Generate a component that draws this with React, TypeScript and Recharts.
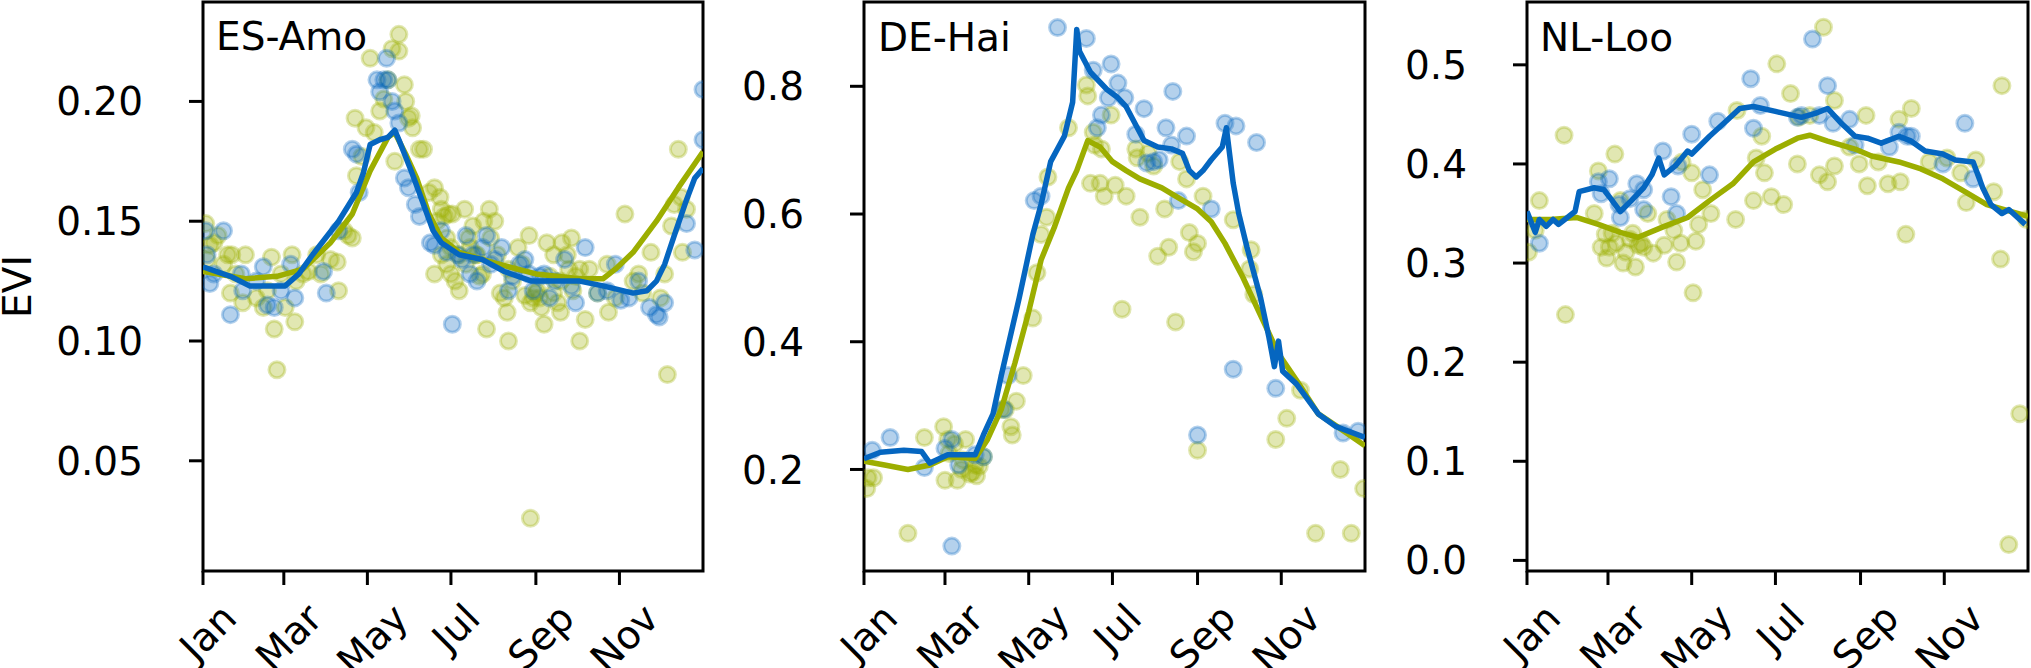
import { ReferenceArea, Scatter, ScatterChart, XAxis, YAxis } from "recharts";

// day-of-year ticks on every panel
const MONTH_TICKS = [0, 59, 120, 181, 243, 304];
const MONTH_LABELS = ["Jan", "Mar", "May", "Jul", "Sep", "Nov"];

// ES-Amo
const AMO_OLIVE = [
  [2, 0.149], [5, 0.14], [11, 0.144], [18, 0.136], [20, 0.12], [24, 0.128], [31, 0.136], [29, 0.116],
  [3, 0.134], [8, 0.141], [15, 0.132], [21, 0.136],
  [39, 0.118], [44, 0.114], [47, 0.121], [50, 0.135], [52, 0.105], [54, 0.088], [57, 0.128], [60, 0.114],
  [65, 0.136], [67, 0.108], [68, 0.125], [73, 0.128], [77, 0.129], [83, 0.136], [86, 0.128], [93, 0.134],
  [98, 0.133], [99, 0.121], [103, 0.146], [106, 0.144], [109, 0.143], [112, 0.169], [111, 0.193],
  [116, 0.177], [119, 0.189], [122, 0.218], [125, 0.187], [129, 0.196], [132, 0.201], [135, 0.209],
  [138, 0.222], [143, 0.228], [143, 0.221], [147, 0.207], [148, 0.2], [150, 0.193], [152, 0.194],
  [153, 0.189], [158, 0.18], [161, 0.18], [140, 0.175], [165, 0.162], [169, 0.164], [173, 0.16],
  [174, 0.155], [171, 0.15], [176, 0.152], [179, 0.153], [182, 0.153], [174, 0.136], [178, 0.132],
  [169, 0.128], [181, 0.128], [184, 0.125], [187, 0.121], [191, 0.155], [194, 0.143], [197, 0.148],
  [199, 0.136], [202, 0.127], [205, 0.15], [209, 0.155], [210, 0.143], [213, 0.15], [207, 0.105],
  [178, 0.143], [181, 0.139], [187, 0.136], [192, 0.132], [195, 0.139], [200, 0.136], [204, 0.128],
  [215, 0.136], [223, 0.13], [226, 0.125], [235, 0.119], [239, 0.116], [244, 0.121], [247, 0.114],
  [256, 0.12], [261, 0.125], [267, 0.13], [270, 0.121],
  [217, 0.12], [220, 0.118], [222, 0.112], [223, 0.1], [230, 0.139], [233, 0.132], [238, 0.144],
  [241, 0.118], [243, 0.12], [246, 0.118], [249, 0.107], [251, 0.141], [253, 0.127], [256, 0.136],
  [259, 0.116], [261, 0.112], [262, 0.141], [266, 0.136], [269, 0.143], [272, 0.127], [275, 0.13],
  [279, 0.109], [275, 0.1], [282, 0.13], [288, 0.12], [295, 0.132], [296, 0.112], [301, 0.118],
  [308, 0.153], [314, 0.125], [318, 0.128], [321, 0.12], [327, 0.137], [334, 0.118], [337, 0.128],
  [339, 0.086], [342, 0.148], [344, 0.157], [347, 0.18], [350, 0.137], [239, 0.026], [349, 0.16],
  [353, 0.155],
];
const AMO_BLUE = [
  [2, 0.146], [3, 0.136], [5, 0.124], [8, 0.128], [15, 0.146], [20, 0.111], [28, 0.128], [29, 0.121],
  [39, 0.125], [44, 0.131], [47, 0.115], [52, 0.114], [57, 0.121], [64, 0.132], [67, 0.118], [88, 0.129],
  [90, 0.12], [99, 0.146], [109, 0.18], [112, 0.178], [114, 0.162], [127, 0.209], [129, 0.204],
  [132, 0.209], [134, 0.218], [135, 0.209], [138, 0.2], [140, 0.196], [143, 0.191], [147, 0.168],
  [150, 0.164], [155, 0.157], [158, 0.152], [166, 0.141], [169, 0.14], [174, 0.146], [178, 0.137],
  [182, 0.107], [186, 0.136], [189, 0.134], [192, 0.144], [195, 0.128], [197, 0.136], [200, 0.125],
  [204, 0.139], [207, 0.144], [210, 0.132], [213, 0.134], [218, 0.139], [223, 0.121], [226, 0.127],
  [231, 0.132], [235, 0.134], [238, 0.128], [241, 0.121], [246, 0.127], [249, 0.128], [253, 0.118],
  [257, 0.125], [264, 0.134], [269, 0.123], [272, 0.116], [279, 0.139], [288, 0.12], [295, 0.121],
  [301, 0.132], [305, 0.117], [311, 0.118], [318, 0.125], [326, 0.114], [331, 0.111], [333, 0.11],
  [337, 0.116], [353, 0.149], [359, 0.138], [365, 0.184], [365, 0.205],
];
const AMO_OLIVE_LINE = [
  [0, 0.129], [31, 0.126], [54, 0.127], [73, 0.13], [93, 0.141], [109, 0.153], [122, 0.171],
  [135, 0.185], [140, 0.187], [148, 0.178], [156, 0.168], [165, 0.153], [174, 0.143], [187, 0.137],
  [210, 0.133], [243, 0.128], [275, 0.126], [292, 0.126], [301, 0.13], [314, 0.137], [331, 0.15],
  [347, 0.164], [365, 0.179],
];
const AMO_BLUE_LINE = [
  [0, 0.131], [20, 0.127], [34, 0.123], [60, 0.123], [70, 0.128], [80, 0.136], [99, 0.15], [112, 0.162],
  [117, 0.17], [122, 0.182], [129, 0.184], [135, 0.185], [140, 0.188], [143, 0.184], [152, 0.171],
  [161, 0.157], [168, 0.146], [174, 0.141], [187, 0.136], [204, 0.134], [220, 0.129], [240, 0.125],
  [259, 0.125], [275, 0.125], [292, 0.123], [314, 0.12], [324, 0.121], [331, 0.125], [337, 0.132],
  [344, 0.144], [353, 0.159], [359, 0.168], [365, 0.172],
];

// DE-Hai
const HAI_OLIVE = [
  [3, 0.187], [7, 0.187], [2, 0.17], [32, 0.1], [44, 0.25], [58, 0.267], [61, 0.247], [59, 0.183],
  [62, 0.225], [66, 0.24], [68, 0.183], [71, 0.2], [72, 0.215], [74, 0.247], [77, 0.193], [79, 0.195],
  [81, 0.207], [82, 0.19], [84, 0.205], [87, 0.22], [100, 0.294], [103, 0.294], [107, 0.267],
  [108, 0.254], [111, 0.307], [116, 0.347], [123, 0.437], [126, 0.508], [129, 0.568], [133, 0.595],
  [134, 0.658], [149, 0.735], [162, 0.802], [163, 0.785], [167, 0.728], [168, 0.708], [165, 0.648],
  [172, 0.648], [175, 0.628], [173, 0.702], [180, 0.755], [183, 0.645], [188, 0.451], [191, 0.628],
  [199, 0.688], [201, 0.595], [198, 0.702], [207, 0.695], [211, 0.675], [214, 0.534], [219, 0.608],
  [222, 0.548], [227, 0.431], [230, 0.682], [235, 0.655], [237, 0.571], [240, 0.541], [243, 0.554],
  [243, 0.23], [247, 0.628], [269, 0.591], [282, 0.544], [281, 0.514], [284, 0.474], [300, 0.247],
  [308, 0.28], [318, 0.324], [329, 0.1], [347, 0.2], [355, 0.1], [364, 0.17],
];
const HAI_BLUE = [
  [6, 0.23], [19, 0.25], [44, 0.203], [59, 0.233], [64, 0.247], [64, 0.08], [69, 0.207], [81, 0.223],
  [87, 0.22], [105, 0.347], [102, 0.294], [124, 0.621], [129, 0.628], [141, 0.892], [162, 0.875],
  [167, 0.825], [180, 0.835], [185, 0.805], [178, 0.782], [190, 0.782], [170, 0.735], [173, 0.755],
  [204, 0.765], [198, 0.725], [225, 0.792], [220, 0.735], [235, 0.722], [224, 0.708], [206, 0.68],
  [211, 0.682], [215, 0.685], [229, 0.621], [243, 0.254], [253, 0.608], [263, 0.742], [271, 0.738],
  [286, 0.712], [269, 0.357], [300, 0.327], [349, 0.257], [360, 0.26],
];
const HAI_OLIVE_LINE = [
  [0, 0.213], [15, 0.207], [32, 0.2], [48, 0.207], [61, 0.22], [81, 0.217], [90, 0.247], [100, 0.294],
  [110, 0.367], [120, 0.447], [129, 0.528], [139, 0.581], [149, 0.641], [155, 0.668], [163, 0.715],
  [172, 0.705], [181, 0.682], [191, 0.668], [201, 0.655], [217, 0.641], [227, 0.628], [243, 0.608],
  [253, 0.588], [263, 0.554], [276, 0.501], [289, 0.441], [302, 0.381], [315, 0.34], [331, 0.287],
  [347, 0.264], [365, 0.237],
];
const HAI_BLUE_LINE = [
  [0, 0.217], [12, 0.227], [29, 0.23], [42, 0.228], [48, 0.21], [61, 0.223], [81, 0.223], [87, 0.254],
  [94, 0.287], [100, 0.347], [113, 0.468], [123, 0.568], [129, 0.615], [136, 0.682], [146, 0.722],
  [152, 0.775], [155, 0.889], [157, 0.855], [165, 0.822], [177, 0.795], [185, 0.782], [191, 0.768],
  [204, 0.715], [214, 0.705], [224, 0.702], [232, 0.695], [237, 0.668], [242, 0.658], [247, 0.668],
  [253, 0.685], [261, 0.705], [264, 0.735], [269, 0.648], [273, 0.601], [279, 0.548], [289, 0.468],
  [295, 0.407], [299, 0.361], [302, 0.401], [305, 0.354], [315, 0.334], [331, 0.287], [344, 0.267],
  [365, 0.25],
];

// NL-Loo
const LOO_OLIVE = [
  [1, 0.311], [6, 0.333], [9, 0.363], [27, 0.429], [28, 0.248], [49, 0.35], [52, 0.393], [54, 0.316],
  [57, 0.329], [58, 0.305], [60, 0.316], [62, 0.33], [64, 0.41], [65, 0.32], [68, 0.363], [70, 0.3],
  [72, 0.311], [75, 0.324], [77, 0.33], [79, 0.296], [81, 0.318], [83, 0.32], [85, 0.316], [88, 0.35],
  [92, 0.31], [100, 0.318], [102, 0.344], [107, 0.333], [109, 0.301], [112, 0.32], [113, 0.402],
  [120, 0.391], [121, 0.27], [123, 0.322], [125, 0.339], [128, 0.374], [134, 0.35], [152, 0.344],
  [153, 0.454], [165, 0.363], [167, 0.406], [171, 0.428], [173, 0.391], [178, 0.367], [182, 0.501],
  [187, 0.359], [192, 0.471], [197, 0.4], [198, 0.447], [206, 0.449], [213, 0.389], [216, 0.538],
  [219, 0.382], [224, 0.464], [224, 0.398], [235, 0.417], [242, 0.4], [247, 0.449], [248, 0.378],
  [256, 0.402], [263, 0.38], [271, 0.445], [272, 0.382], [276, 0.329], [280, 0.456], [293, 0.402],
  [306, 0.406], [316, 0.391], [320, 0.361], [327, 0.404], [340, 0.372], [345, 0.304], [346, 0.479],
  [351, 0.016], [359, 0.148], [364, 0.344],
];
const LOO_BLUE = [
  [9, 0.32], [52, 0.382], [60, 0.385], [54, 0.37], [68, 0.346], [67, 0.359], [75, 0.365], [80, 0.38],
  [85, 0.374], [85, 0.354], [99, 0.413], [105, 0.367], [109, 0.35], [110, 0.398], [120, 0.43],
  [133, 0.389], [139, 0.443], [163, 0.486], [165, 0.436], [170, 0.459], [197, 0.447], [200, 0.449],
  [208, 0.526], [213, 0.449], [219, 0.479], [223, 0.441], [235, 0.445], [239, 0.419], [264, 0.417],
  [271, 0.432], [277, 0.428], [280, 0.428], [303, 0.4], [319, 0.441], [325, 0.385],
];
const LOO_OLIVE_LINE = [
  [0, 0.344], [17, 0.344], [36, 0.346], [52, 0.339], [68, 0.331], [81, 0.326], [100, 0.337],
  [117, 0.346], [133, 0.363], [150, 0.38], [165, 0.402], [181, 0.415], [197, 0.426], [206, 0.429],
  [219, 0.423], [239, 0.415], [251, 0.408], [271, 0.402], [287, 0.395], [303, 0.385], [319, 0.372],
  [335, 0.359], [365, 0.347],
];
const LOO_BLUE_LINE = [
  [0, 0.352], [6, 0.331], [9, 0.344], [14, 0.337], [19, 0.344], [23, 0.339], [35, 0.352], [38, 0.372],
  [49, 0.376], [56, 0.374], [61, 0.365], [68, 0.352], [76, 0.363], [85, 0.376], [91, 0.389], [96, 0.406],
  [100, 0.389], [108, 0.398], [117, 0.413], [120, 0.41], [133, 0.428], [145, 0.443], [155, 0.456],
  [165, 0.458], [181, 0.453], [200, 0.447], [210, 0.451], [219, 0.456], [229, 0.441], [239, 0.428],
  [248, 0.426], [258, 0.421], [271, 0.428], [280, 0.423], [290, 0.413], [303, 0.41], [312, 0.404],
  [325, 0.402], [332, 0.376], [338, 0.359], [346, 0.35], [351, 0.354], [363, 0.339],
];

const AMO_Y_TICKS = [0.05, 0.1, 0.15, 0.2];
const HAI_Y_TICKS = [0.2, 0.4, 0.6, 0.8];
const LOO_Y_TICKS = [0, 0.1, 0.2, 0.3, 0.4, 0.5];

const OLIVE = "#9cae00";
const BLUE = "#0566c0";
const FONT = "'DejaVu Sans', sans-serif";
const FS = 39;
const PLOT_TOP = 2;
const PLOT_BOTTOM = 571;
const X_AXIS_H = 668 - PLOT_BOTTOM;
const LINE_W = 5.5;

const CHAR_W: Record<string, number> = {
  J: 0.295, a: 0.613, n: 0.634, M: 0.863, r: 0.411, y: 0.592, u: 0.634,
  l: 0.278, S: 0.635, e: 0.615, p: 0.635, N: 0.748, o: 0.612, v: 0.592,
};

const toPts = (arr: number[][]) => arr.map(([d, v]) => ({ d, v }));

// rotated month label, box centred under the tick like matplotlib's rotation=45
const XTick = (props: any) => {
  const { x, payload } = props;
  const label = MONTH_LABELS[MONTH_TICKS.indexOf(payload.value)] ?? "";
  const w = [...label].reduce((s, ch) => s + (CHAR_W[ch] ?? 0.6), 0) * FS;
  const cy = PLOT_BOTTOM + 24 + (w + 1.164 * FS) * 0.3536;
  const cx = x + 5;
  return (
    <text
      x={cx}
      y={cy + 0.346 * FS}
      textAnchor="middle"
      transform={`rotate(-45 ${cx} ${cy})`}
      fontFamily={FONT}
      fontSize={FS}
      fill="#000"
    >
      {label}
    </text>
  );
};

const Dot = (color: string) => (p: any) =>
  (
    <circle
      cx={p.cx}
      cy={p.cy}
      r={8}
      fill={color}
      fillOpacity={0.3}
      stroke={color}
      strokeOpacity={0.3}
      strokeWidth={3}
    />
  );

const NoDot = () => <g />;

function Panel({
  left,
  axisW,
  plotW,
  domain,
  yTicks,
  decimals,
  olive,
  blue,
  oliveLine,
  blueLine,
}: {
  left: number;
  axisW: number;
  plotW: number;
  domain: [number, number];
  yTicks: number[];
  decimals: number;
  olive: number[][];
  blue: number[][];
  oliveLine: number[][];
  blueLine: number[][];
}) {
  const rightM = 5;
  const YTick = (props: any) => (
    <text
      x={axisW - 60}
      y={props.y + 0.36 * FS}
      textAnchor="end"
      fontFamily={FONT}
      fontSize={FS}
      fill="#000"
    >
      {Number(props.payload.value).toFixed(decimals)}
    </text>
  );
  return (
    <div style={{ position: "absolute", left, top: 0 }}>
      <ScatterChart
        width={axisW + plotW + rightM}
        height={668}
        margin={{ top: PLOT_TOP, right: rightM, bottom: 0, left: 0 }}
      >
        <XAxis
          type="number"
          dataKey="d"
          domain={[0, 365]}
          ticks={MONTH_TICKS}
          interval={0}
          allowDataOverflow
          height={X_AXIS_H}
          tickSize={14}
          tickLine={{ stroke: "#000", strokeWidth: 3 }}
          axisLine={false}
          tick={XTick}
        />
        <YAxis
          type="number"
          dataKey="v"
          domain={domain}
          ticks={yTicks}
          interval={0}
          allowDataOverflow
          width={axisW}
          tickSize={14}
          tickLine={{ stroke: "#000", strokeWidth: 3 }}
          axisLine={false}
          tick={YTick}
        />
        <Scatter data={toPts(olive)} shape={Dot(OLIVE)} isAnimationActive={false} />
        <Scatter data={toPts(blue)} shape={Dot(BLUE)} isAnimationActive={false} />
        <Scatter
          data={toPts(oliveLine)}
          shape={NoDot}
          fill={OLIVE}
          stroke={OLIVE}
          strokeWidth={LINE_W}
          line={{ stroke: OLIVE, strokeWidth: LINE_W, strokeLinejoin: "round" }}
          lineType="joint"
          isAnimationActive={false}
        />
        <Scatter
          data={toPts(blueLine)}
          shape={NoDot}
          fill={BLUE}
          stroke={BLUE}
          strokeWidth={LINE_W}
          line={{ stroke: BLUE, strokeWidth: LINE_W, strokeLinejoin: "round" }}
          lineType="joint"
          isAnimationActive={false}
        />
        <ReferenceArea
          x1={0}
          x2={365}
          y1={domain[0]}
          y2={domain[1]}
          fill="none"
          stroke="#000"
          strokeWidth={3}
          ifOverflow="visible"
        />
      </ScatterChart>
    </div>
  );
}

export default function App() {
  return (
    <div
      style={{
        position: "absolute",
        left: 0,
        top: 0,
        width: 2031,
        height: 668,
        overflow: "hidden",
        background: "#fff",
      }}
    >
      <Panel
        left={0}
        axisW={203}
        plotW={500}
        domain={[0.004, 0.2415]}
        yTicks={AMO_Y_TICKS}
        decimals={2}
        olive={AMO_OLIVE}
        blue={AMO_BLUE}
        oliveLine={AMO_OLIVE_LINE}
        blueLine={AMO_BLUE_LINE}
      />
      <Panel
        left={714}
        axisW={150}
        plotW={501}
        domain={[0.041, 0.932]}
        yTicks={HAI_Y_TICKS}
        decimals={1}
        olive={HAI_OLIVE}
        blue={HAI_BLUE}
        oliveLine={HAI_OLIVE_LINE}
        blueLine={HAI_BLUE_LINE}
      />
      <Panel
        left={1377}
        axisW={150}
        plotW={501}
        domain={[-0.0107, 0.5634]}
        yTicks={LOO_Y_TICKS}
        decimals={1}
        olive={LOO_OLIVE}
        blue={LOO_BLUE}
        oliveLine={LOO_OLIVE_LINE}
        blueLine={LOO_BLUE_LINE}
      />
      <svg
        width={2031}
        height={668}
        style={{ position: "absolute", left: 0, top: 0, pointerEvents: "none" }}
        fontFamily={FONT}
        fontSize={FS}
      >
        <text x={31} y={286.5} textAnchor="middle" transform="rotate(-90 31 286.5)">
          EVI
        </text>
        <text x={216} y={50}>ES-Amo</text>
        <text x={878} y={51}>DE-Hai</text>
        <text x={1540} y={51}>NL-Loo</text>
      </svg>
    </div>
  );
}
